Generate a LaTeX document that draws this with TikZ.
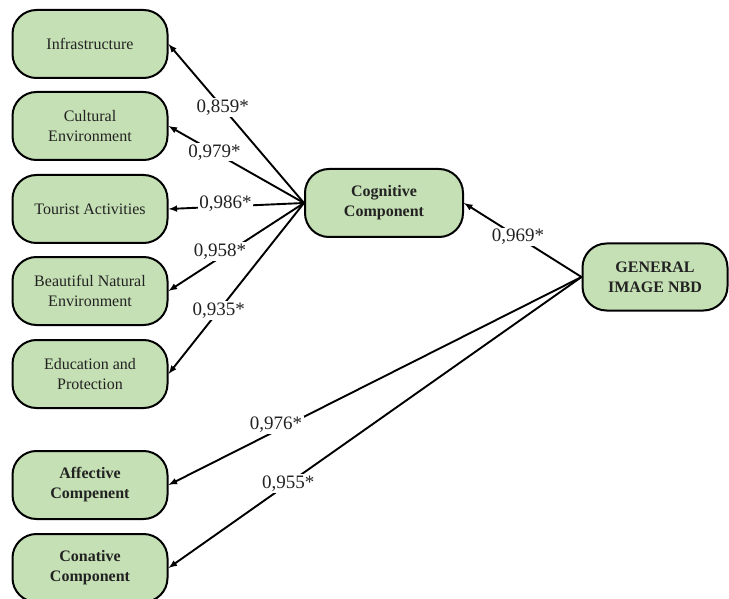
\documentclass[tikz,border=0pt]{standalone}
\usepackage{fontspec}
\setmainfont{Liberation Serif}
\usepackage{xcolor}
\usepackage{tikz}
\usetikzlibrary{arrows,positioning}
\definecolor{boxgreen}{HTML}{C5E0B4}
\definecolor{inkgray}{HTML}{222222}

\begin{document}
\begin{tikzpicture}[x=1pt,y=-1pt,
  factor/.style={draw, line width=2pt, fill=boxgreen, rounded corners=24pt,
    minimum width=155pt, minimum height=68pt, align=center, text=inkgray,
    font=\fontsize{16}{20}\selectfont},
  load/.style={-latex, line width=1.9pt},
  coef/.style={fill=white, inner sep=1.5pt, text=inkgray,
    font=\fontsize{19}{22}\selectfont}]
\useasboundingbox (0,0) rectangle (729,599);

% first order factors
\node[factor] (infra) at (90,44) {Infrastructure};
\node[factor] (cult) at (90,126) {Cultural\\Environment};
\node[factor] (tour) at (90,209) {Tourist Activities};
\node[factor] (nat) at (90,291) {Beautiful Natural\\Environment};
\node[factor] (edu) at (90,374) {Education and\\Protection};
\node[factor, font=\fontsize{16}{20}\selectfont\bfseries] (aff) at (90,485) {Affective\\Compenent};
\node[factor, font=\fontsize{16}{20}\selectfont\bfseries] (con) at (90,568) {Conative\\Component};

% second order
\node[factor, minimum width=158pt, font=\fontsize{16}{20}\selectfont\bfseries] (cog) at (384,203) {Cognitive\\Component};
\node[factor, minimum width=145pt, minimum height=67pt, font=\fontsize{16}{20}\selectfont\bfseries] (gen) at (655,277) {GENERAL\\IMAGE NBD};

% loadings of the cognitive component
\draw[load] (cog.west) -- node[coef, pos=0.6] {0,859*} (infra.east);
\draw[load] (cog.west) -- node[coef, pos=0.66] {0,979*} (cult.east);
\draw[load] (cog.west) -- node[coef, pos=0.58, yshift=3pt] {0,986*} (tour.east);
\draw[load] (cog.west) -- node[coef, pos=0.62, yshift=6pt] {0,958*} (nat.east);
\draw[load] (cog.west) -- node[coef, pos=0.63] {0,935*} (edu.east);

% loadings of the general image
\draw[load] (gen.west) -- node[coef, pos=0.54] {0,969*} (cog.east);
\draw[load] (gen.west) -- node[coef, pos=0.74, yshift=6pt] {0,976*} (aff.east);
\draw[load] (gen.west) -- node[coef, pos=0.71] {0,955*} (con.east);
\end{tikzpicture}
\end{document}
